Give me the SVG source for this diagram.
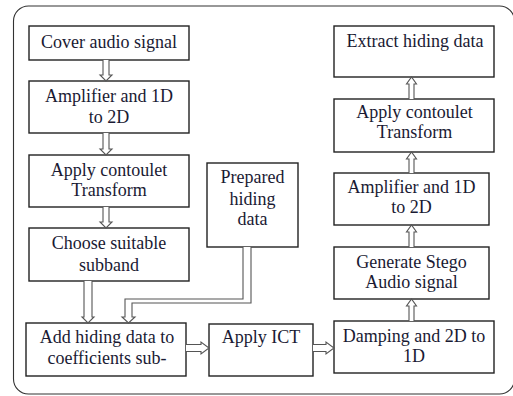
<svg xmlns="http://www.w3.org/2000/svg" width="513" height="396" viewBox="0 0 513 396">
<style>
.box{fill:#fff;stroke:#222;stroke-width:1.4}
.frame{fill:#fff;stroke:#333;stroke-width:1.1}
.arr{fill:#fff;stroke:#555;stroke-width:1.1;stroke-linejoin:miter}
text{font-family:"Liberation Serif","Times New Roman",serif;font-size:18px;fill:#1a1a33;text-anchor:middle}
</style>
<rect class="frame" x="13.5" y="6" width="501" height="388" rx="15" ry="15"/>
<g id="n1"><rect class="box" x="29" y="26" width="160" height="34"/><text x="109" y="48">Cover audio signal</text></g>
<g id="n2"><rect class="box" x="29" y="81" width="160" height="52"/><text x="109" y="102">Amplifier and 1D</text><text x="109" y="123">to 2D</text></g>
<g id="n3"><rect class="box" x="29" y="155" width="160" height="52"/><text x="109" y="176">Apply contoulet</text><text x="109" y="196">Transform</text></g>
<g id="n4"><rect class="box" x="29" y="228" width="160" height="53"/><text x="109" y="249">Choose suitable</text><text x="109" y="271">subband</text></g>
<g id="n5"><rect class="box" x="26" y="323" width="160" height="53"/><text x="107" y="343">Add hiding data to</text><text x="107" y="364">coefficients sub-</text></g>
<g id="n6"><rect class="box" x="207" y="163" width="91" height="84"/><text x="252.5" y="183">Prepared</text><text x="252.5" y="205">hiding</text><text x="252.5" y="225">data</text></g>
<g id="n7"><rect class="box" x="209" y="324" width="104" height="52"/><text x="261" y="343">Apply ICT</text></g>
<g id="n8"><rect class="box" x="334" y="321" width="160" height="52"/><text x="414" y="342">Damping and 2D to</text><text x="414" y="362">1D</text></g>
<g id="n9"><rect class="box" x="334" y="247" width="155" height="52"/><text x="411.5" y="268">Generate Stego</text><text x="411.5" y="288">Audio signal</text></g>
<g id="n10"><rect class="box" x="334" y="173" width="155" height="52"/><text x="411.5" y="193">Amplifier and 1D</text><text x="411.5" y="213">to 2D</text></g>
<g id="n11"><rect class="box" x="334" y="99" width="160" height="53"/><text x="414.5" y="118">Apply contoulet</text><text x="414.5" y="138">Transform</text></g>
<g id="n12"><rect class="box" x="334" y="26" width="160" height="51"/><text x="415" y="47">Extract hiding data</text></g>
<g id="connectors">
<path class="arr" d="M103,60 V75 H100 L106,81 L112,75 H109 V60"/>
<path class="arr" d="M103,133 V149 H100 L106,155 L112,149 H109 V133"/>
<path class="arr" d="M103,207 V222 H100 L106,228 L112,222 H109 V207"/>
<path class="arr" d="M84,281 V317 H82 L88,323 L94,317 H92 V281"/>
<path class="arr" d="M243,247 V299 H125 V317 H122 L128.5,323 L135,317 H132 V303 H251 V247"/>
<path class="arr" d="M186,344.5 H201 V342 L209,348 L201,354 V351.5 H186"/>
<path class="arr" d="M313,344.5 H326 V342 L334,348 L326,354 V351.5 H313"/>
<path class="arr" d="M409,99 V84 H406.5 L411.5,77 L416.5,84 H414 V99"/>
<path class="arr" d="M409,173 V159 H406.5 L411.5,152 L416.5,159 H414 V173"/>
<path class="arr" d="M409,247 V232 H406.5 L411.5,225 L416.5,232 H414 V247"/>
<path class="arr" d="M409,321 V306 H406.5 L411.5,299 L416.5,306 H414 V321"/>
</g>
</svg>
